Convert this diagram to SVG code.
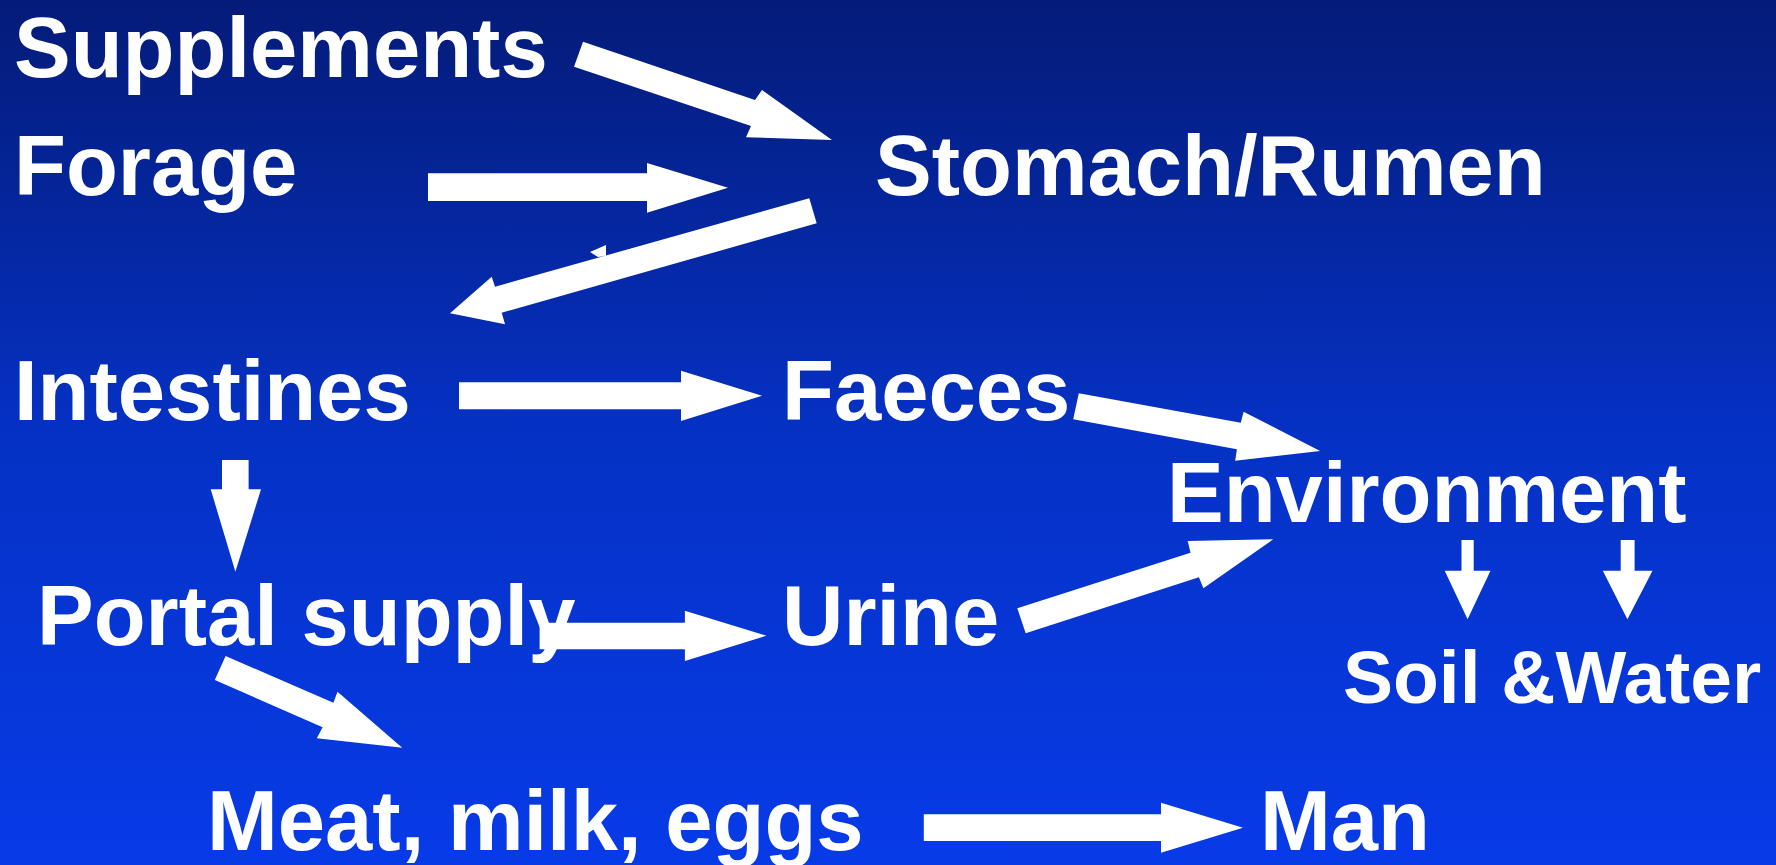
<svg xmlns="http://www.w3.org/2000/svg" width="1776" height="865" viewBox="0 0 1776 865">
<defs>
<linearGradient id="bg" x1="0" y1="0" x2="0" y2="1">
<stop offset="0" stop-color="#041b78"/>
<stop offset="0.5" stop-color="#0531c4"/>
<stop offset="1" stop-color="#073be8"/>
</linearGradient>
<style>
.t{font-family:"Liberation Sans",Arial,sans-serif;font-weight:bold;font-size:85px;fill:#ffffff}
.s{font-size:75px}
.a{fill:#ffffff;stroke:none}
</style>
</defs>
<rect x="0" y="0" width="1776" height="865" fill="url(#bg)"/>
<g id="connectors">
<polygon class="a" points="583,41.7 755,100 762,90 832,140 746,137.3 751,126 574,66.7"/>
<polygon class="a" points="428,173.3 647,173.3 647,163 728,187.7 647,212.7 647,201 428,201"/>
<polygon class="a" points="809.3,198.3 495,286.7 491.7,276.7 450,313.3 505,324.3 501.7,312.7 816.7,223.3"/>
<polygon class="a" points="590,252 606,245 606,256 598,257"/>
<polygon class="a" points="459,382.3 681,382.3 681,370.7 762,395.7 681,421 681,409.3 459,409.3"/>
<polygon class="a" points="222,460 248.6,460 248.6,489.3 261,489.3 235.4,571.7 210.7,489.3 222,489.3"/>
<polygon class="a" points="539.6,622.7 684.9,622.7 684.9,610.7 766.4,635.7 684.9,661 684.9,649.3 539.6,649.3"/>
<polygon class="a" points="1078.8,393.3 1240.8,422.7 1243.6,411.7 1320.1,451 1235.2,460.7 1236.9,449.3 1073.2,419.3"/>
<polygon class="a" points="1017.3,608.3 1190.5,552.7 1187.7,541 1273.2,539.3 1203.4,588.3 1198.9,577.3 1025.7,633.3"/>
<polygon class="a" points="1461.5,540 1473.7,540 1473.7,570.7 1490.5,570.7 1467.6,619.3 1444.7,570.7 1461.5,570.7"/>
<polygon class="a" points="1620.7,540 1634.6,540 1634.6,570.7 1652.5,570.7 1627.4,619.3 1602.8,570.7 1620.7,570.7"/>
<polygon class="a" points="225.6,656 333.4,702.7 337.5,691.7 402.2,747.7 316.8,738.3 322.6,727.3 214.8,680"/>
<polygon class="a" points="923.8,814.3 1161,814.3 1161,802.7 1243,827.7 1161,852.7 1161,841 923.8,841"/>
</g>
<g id="supplements"><text class="t" x="14" y="77">Supplements</text></g>
<g id="forage"><text class="t" x="14" y="195">Forage</text></g>
<g id="stomach"><text class="t" x="875" y="195">Stomach/Rumen</text></g>
<g id="intestines"><text class="t" x="14" y="420">Intestines</text></g>
<g id="faeces"><text class="t" x="782" y="420">Faeces</text></g>
<g id="environment"><text class="t" x="1167" y="522">Environment</text></g>
<g id="portal"><text class="t" x="37" y="645">Portal supply</text></g>
<g id="urine"><text class="t" x="782" y="645">Urine</text></g>
<g id="soilwater"><text class="t s" x="1343" y="703">Soil &amp;Water</text></g>
<g id="meat"><text class="t" x="207" y="850">Meat, milk, eggs</text></g>
<g id="man"><text class="t" x="1260" y="850">Man</text></g>
</svg>
